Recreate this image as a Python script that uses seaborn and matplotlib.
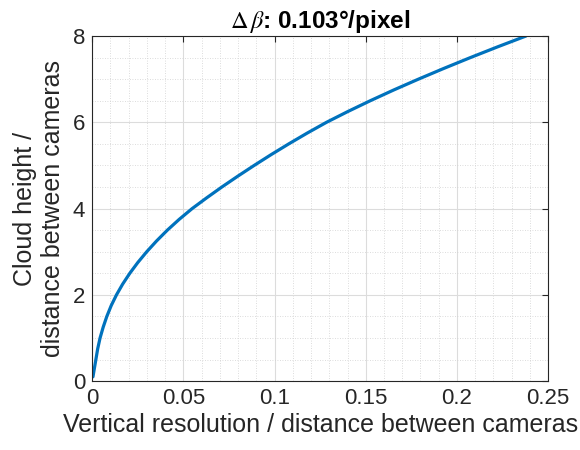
import numpy as np
import pandas as pd
import seaborn as sns
import matplotlib
matplotlib.use("Agg")
import matplotlib.pyplot as plt
from matplotlib.ticker import MultipleLocator

# values
cloud_height = [0.1, 0.25, 0.5, 0.75, 1.0, 1.25, 1.5, 1.75, 2.0, 2.25,
                2.5, 2.75, 3.0, 3.25, 3.5, 3.75, 4.0, 4.25, 4.5, 4.75,
                5.0, 5.25, 5.5, 5.75, 6.0, 6.25, 6.5, 6.75, 7.0, 7.25,
                7.5, 7.75, 8.0]
vertical_res = [0.0004, 0.0010, 0.0020, 0.0030, 0.0043, 0.0060, 0.0080, 0.0104, 0.0133, 0.0167,
                0.0206, 0.0250, 0.0299, 0.0353, 0.0412, 0.0477, 0.0548, 0.0628, 0.0711, 0.0798,
                0.0888, 0.0981, 0.1078, 0.1179, 0.1285, 0.1402, 0.1525, 0.1654, 0.1789, 0.1929,
                0.2074, 0.2224, 0.2379]
x_ticks = [0, 0.05, 0.1, 0.15, 0.2, 0.25]
x_tick_labels = ["0", "0.05", "0.1", "0.15", "0.2", "0.25"]
y_ticks = [0, 2, 4, 6, 8]

df = pd.DataFrame({"res": vertical_res, "h": cloud_height})

sns.set_theme(style="white")
plt.rcParams["font.family"] = ["Liberation Sans", "DejaVu Sans"]
plt.rcParams["mathtext.fontset"] = "stix"

txt = "#262626"
fig = plt.figure(figsize=(5.8, 4.5), dpi=100)
ax = fig.add_axes([0.159, 0.153, 0.786, 0.767])

sns.lineplot(data=df, x="res", y="h", color="#0072BD", linewidth=2.3,
             estimator=None, sort=False, ax=ax)

ax.set_xlim(0, 0.25)
ax.set_ylim(0, 8)
ax.set_xticks(x_ticks)
ax.set_xticklabels(x_tick_labels)
ax.set_yticks(y_ticks)
ax.xaxis.set_minor_locator(MultipleLocator(0.01))
ax.yaxis.set_minor_locator(MultipleLocator(0.5))

ax.grid(which="major", color="#dcdcdc", linewidth=0.8, linestyle="-")
ax.grid(which="minor", color="#d0d0d0", linewidth=0.6, linestyle=(0, (1, 2)))
ax.set_axisbelow(True)

ax.tick_params(which="major", direction="in", length=4, width=0.8, colors=txt,
               top=True, right=True, labelsize=16, pad=5)
ax.tick_params(which="minor", length=0, top=True, right=True)
for s in ax.spines.values():
    s.set_color(txt)
    s.set_linewidth(0.8)

ax.set_xlabel("Vertical resolution / distance between cameras", fontsize=18, color=txt, labelpad=3)
ax.set_ylabel("Cloud height /\ndistance between cameras", fontsize=18, color=txt, labelpad=6)
ax.set_title(r"$\Delta\,\beta$: 0.103°/pixel", fontsize=17.5, fontweight="bold", color="black", pad=6)

fig.savefig("out.png", dpi=100)
